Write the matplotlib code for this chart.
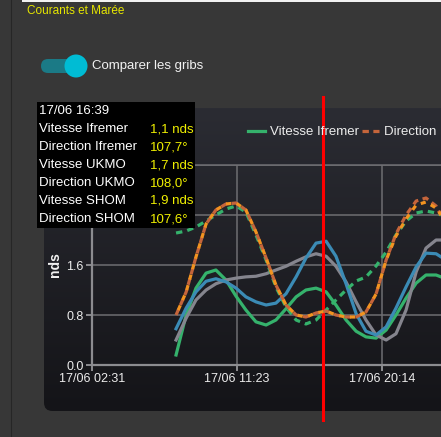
import numpy as np
import pandas as pd
import matplotlib
matplotlib.use("Agg")
import matplotlib.pyplot as plt
from matplotlib.patches import FancyBboxPatch, Rectangle, Ellipse
from matplotlib.colors import LinearSegmentedColormap

# sample times (17/06) and values
times = ["07:39", "08:16", "08:52", "09:29", "10:05", "10:42", "11:19",
         "11:55", "12:32", "13:09", "13:45", "14:22", "14:59", "15:35",
         "16:12", "16:49", "17:25", "18:02", "18:39", "19:15", "19:52",
         "20:29", "21:05", "21:42", "22:19", "22:55", "23:32", "23:50"]

# speeds in knots
vitesse_ifremer = [0.16, 0.80, 1.23, 1.47, 1.52, 1.36, 1.10, 0.88, 0.69, 0.64,
                   0.72, 0.90, 1.09, 1.20, 1.23, 1.17, 0.96, 0.72, 0.54, 0.45,
                   0.43, 0.56, 0.80, 1.07, 1.31, 1.44, 1.44, 1.41]
vitesse_ukmo = [0.40, 0.75, 1.04, 1.20, 1.30, 1.36, 1.39, 1.41, 1.42, 1.46,
                1.52, 1.58, 1.66, 1.73, 1.78, 1.74, 1.58, 1.33, 1.01, 0.72,
                0.48, 0.40, 0.50, 0.88, 1.49, 1.87, 2.00, 2.00]
vitesse_shom = [0.58, 0.91, 1.17, 1.34, 1.38, 1.33, 1.23, 1.09, 1.01, 0.96,
                0.99, 1.14, 1.41, 1.71, 1.95, 1.98, 1.74, 1.30, 0.82, 0.54,
                0.48, 0.61, 0.91, 1.25, 1.57, 1.79, 1.78, 1.73]

# directions in degrees
direction_ifremer = [100, 146, 216, 282, 310, 322, 324, 310, 266, 214, 160,
                     120, 100, 96, 104, 108, 100, 96, 96, 106, 142, 210, 262,
                     300, 328, 334, 318, 300]
direction_ukmo = [264, 268, 276, 288, 300, 312, 318, 306, 260, 210, 156, 116,
                  90, 82, 90, 110, 130, 150, 168, 176, 198, 226, 260, 288,
                  304, 308, 304, 300]
direction_shom = [100, 146, 216, 282, 310, 322, 324, 310, 266, 214, 160, 120,
                  100, 96, 104, 108, 100, 96, 96, 106, 142, 210, 258, 292,
                  320, 326, 314, 300]

tick_times = ["02:31", "11:23", "20:14"]
cursor_time = "16:39"

tooltip_title = "17/06 16:39"
tooltip_labels = ["Vitesse Ifremer", "Direction Ifremer", "Vitesse UKMO",
                  "Direction UKMO", "Vitesse SHOM", "Direction SHOM"]
tooltip_values = ["1,1 nds", "107,7°", "1,7 nds", "108,0°", "1,9 nds", "107,6°"]

day = "2023-06-17 "
t = pd.to_datetime([day + s for s in times])
ticks = pd.to_datetime([day + s for s in tick_times])
cursor = pd.Timestamp(day + cursor_time)

W, H = 441, 437
BG = "#373737"
plt.rcParams["font.family"] = ["Liberation Sans", "DejaVu Sans"]

fig = plt.figure(figsize=(W / 100, H / 100), dpi=100, facecolor=BG)


def fx(x):
    return x / W


def fy(y):
    return 1 - y / H


# page decorations
fig.add_artist(plt.Line2D([fx(11), fx(11)], [0, 1], color="#262626", lw=0.8))
fig.add_artist(Rectangle((fx(22), fy(2)), 1, 2 / H, color="#f2f2f2", lw=0))
fig.text(fx(27), fy(11), "Courants et Marée", color="#e6e600",
         fontsize=8.5, va="center", ha="left")

# toggle switch
fig.add_artist(FancyBboxPatch((fx(41), fy(73)), fx(40), 14 / H,
                              boxstyle="round,pad=0,rounding_size=0.016",
                              mutation_aspect=W / H,
                              color="#1b7a86", lw=0))
fig.add_artist(Ellipse((fx(76), fy(66)), 23 / W, 23 / H,
                       color="#00bcd4", lw=0))
fig.text(fx(92), fy(66), "Comparer les gribs", color="#f2f2f2",
         fontsize=9.5, va="center", ha="left")

# chart panel with vertical gradient
bg_ax = fig.add_axes([fx(44), fy(411), fx(420), 303 / H])
bg_ax.axis("off")
cmap = LinearSegmentedColormap.from_list("panel", ["#2b2c33", "#141418"])
grad = np.linspace(0, 1, 256).reshape(-1, 1)
im = bg_ax.imshow(grad, aspect="auto", cmap=cmap, extent=[0, 1, 0, 1],
                  origin="upper")
clip = FancyBboxPatch((0, 0), 1, 1, boxstyle="round,pad=0,rounding_size=0.02",
                      mutation_aspect=420 / 303, transform=bg_ax.transAxes,
                      facecolor="none", lw=0)
bg_ax.add_patch(clip)
im.set_clip_path(clip)

# main plot
ax = fig.add_axes([fx(92), fy(365), fx(349), 200 / H])
ax.patch.set_alpha(0)
ax.set_xlim(ticks[0], t[-1])
ax.set_ylim(0, 3.2)
ax.set_yticks([0, 0.8, 1.6, 2.4, 3.2])
# the 2.4 / 3.2 labels sit under the tooltip
ax.set_yticklabels(["0.0", "0.8", "1.6", "", ""])
ax.set_xticks(ticks)
ax.set_xticklabels(["17/06 " + s for s in tick_times])
ax.grid(True, color="#6e6e72", lw=1.1)
ax.set_axisbelow(True)
ax.spines["right"].set_visible(False)
ax.spines["top"].set_color("#6e6e72")
ax.spines["top"].set_linewidth(1.1)
for side in ["left", "bottom"]:
    ax.spines[side].set_color("#8c8c90")
    ax.spines[side].set_linewidth(1.6)
ax.tick_params(colors="#8c8c90", labelcolor="#ececec", labelsize=9,
               length=4, width=1.4, pad=2)
ax.set_ylabel("nds", color="#f2f2f2", fontsize=10, fontweight="bold",
              labelpad=3)

green = "#35b26c"
l1, = ax.plot(t, vitesse_ifremer, color=green, lw=2.3, label="Vitesse Ifremer")
l3, = ax.plot(t, vitesse_ukmo, color="#85858e", lw=2.3, label="Vitesse UKMO")
l5, = ax.plot(t, vitesse_shom, color="#3b8bb5", lw=2.3, label="Vitesse SHOM")

ax2 = ax.twinx()
ax2.set_ylim(0, 400)
ax2.set_axis_off()
l4, = ax2.plot(t, direction_ukmo, color=green, lw=2.3, ls=(0, (2, 1.6)),
               label="Direction UKMO")
l2, = ax2.plot(t, direction_ifremer, color="#c5653b", lw=2.3,
               ls=(0, (2, 1.4)), label="Direction Ifremer")
l6, = ax2.plot(t, direction_shom, color="#f39320", lw=2.3,
               ls=(1.7, (1.6, 1.8)), label="Direction SHOM")

# cursor
ax.axvline(cursor, ymin=-0.275, ymax=1.34, color="#ff0000", lw=2.2,
           clip_on=False, zorder=10)

leg = fig.legend(handles=[l1, l2, l3, l4, l5, l6], ncol=6, frameon=False,
                 loc="center left", bbox_to_anchor=(fx(236), fy(132)),
                 fontsize=9.5, labelcolor="#ececec", handlelength=1.3,
                 handletextpad=0.35, columnspacing=0.25)

# tooltip
fig.add_artist(Rectangle((fx(37), fy(228)), fx(158), 126 / H,
                         color="black", lw=0, zorder=20))
fig.text(fx(39), fy(111), tooltip_title, color="white", fontsize=9.5,
         va="center", zorder=21)
for i, (lab, val) in enumerate(zip(tooltip_labels, tooltip_values)):
    y = 129 + 18 * i
    fig.text(fx(39), fy(y), lab, color="white", fontsize=9.5,
             va="center", zorder=21)
    fig.text(fx(150), fy(y), val, color="#f0f000", fontsize=9.5,
             va="center", zorder=21)

fig.savefig("out.png", dpi=100, facecolor=BG)
